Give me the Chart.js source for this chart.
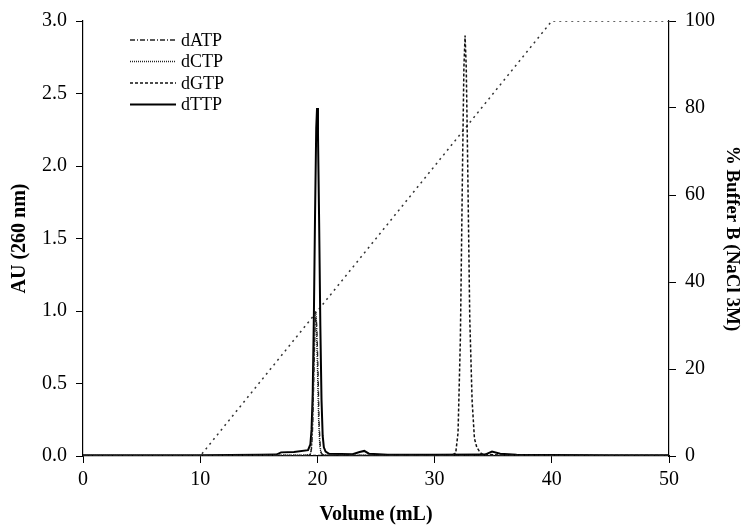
<!DOCTYPE html>
<html>
<head>
<meta charset="utf-8">
<title>Nucleotide elution</title>
<script src="https://cdn.jsdelivr.net/npm/chart.js@4/dist/chart.umd.min.js"></script>
<style>
  html, body { margin: 0; padding: 0; background: #fff; }
  #wrap { width: 747px; height: 527px; position: relative; }
</style>
</head>
<body>
<div id="wrap"><canvas id="chart"></canvas></div>
<script>
const volATP = [0, 5, 10, 15, 19.0, 19.4, 19.5, 19.6, 19.7, 19.8, 19.88, 19.95, 20.05, 20.15, 20.25, 20.35, 20.6, 25, 30, 35, 40, 45, 50];
const auATP  = [0.003, 0.003, 0.003, 0.004, 0.005, 0.01, 0.05, 0.2, 0.55, 0.9, 0.96, 0.9, 0.6, 0.22, 0.06, 0.015, 0.006, 0.004, 0.003, 0.003, 0.003, 0.003, 0.003];

const volCTP = [0, 5, 10, 15, 19.0, 19.4, 19.5, 19.6, 19.7, 19.8, 19.85, 19.9, 20.0, 20.1, 20.2, 20.3, 20.5, 25, 30, 35, 40, 45, 50];
const auCTP  = [0.004, 0.004, 0.004, 0.005, 0.006, 0.012, 0.07, 0.25, 0.61, 0.95, 1.0, 0.95, 0.61, 0.25, 0.07, 0.02, 0.008, 0.005, 0.004, 0.004, 0.004, 0.004, 0.004];

const volGTP = [0, 5, 10, 15, 20, 25, 30, 31.5, 31.8, 32.0, 32.2, 32.4, 32.5, 32.6, 32.7, 32.8, 33.0, 33.2, 33.4, 33.6, 33.8, 34.0, 35, 40, 45, 50];
const auGTP  = [0.002, 0.002, 0.002, 0.003, 0.003, 0.003, 0.004, 0.006, 0.02, 0.16, 0.81, 2.1, 2.68, 2.9, 2.68, 2.15, 0.95, 0.38, 0.12, 0.06, 0.035, 0.015, 0.008, 0.005, 0.004, 0.003];

const volTTP = [0, 5, 10, 15, 16.5, 16.9, 18, 19.2, 19.4, 19.5, 19.6, 19.7, 19.8, 19.9, 19.97, 20.05, 20.15, 20.25, 20.35, 20.45, 20.55, 20.7, 21, 23, 23.6, 24, 24.4, 26, 30, 34.3, 34.9, 35.6, 37, 40, 45, 50];
const auTTP  = [0.006, 0.006, 0.006, 0.008, 0.01, 0.025, 0.028, 0.04, 0.08, 0.18, 0.43, 0.97, 1.67, 2.26, 2.4, 2.22, 1.6, 0.9, 0.39, 0.14, 0.06, 0.03, 0.015, 0.012, 0.028, 0.035, 0.016, 0.009, 0.008, 0.01, 0.03, 0.015, 0.009, 0.007, 0.006, 0.005];

// gradiente % Buffer B
const volGrad = [0, 10, 40, 50];
const pctB    = [0, 0, 100, 100];

const serieNames = ['dATP', 'dCTP', 'dGTP', 'dTTP'];
const xTicks = [0, 10, 20, 30, 40, 50];

function pts(xs, ys) {
  return xs.map((x, i) => ({ x: x, y: ys[i] }));
}

const serif = '"Liberation Serif", "DejaVu Serif", serif';

// leyenda dentro del area, dibujada a mano (sin caja)
const legendPlugin = {
  id: 'inlineLegend',
  afterDraw(chart) {
    const ctx = chart.ctx;
    const x0 = 130, x1 = 176, y0 = 40, dy = 21.5;
    ctx.save();
    ctx.font = '18px ' + serif;
    ctx.fillStyle = '#000';
    ctx.textBaseline = 'middle';
    serieNames.forEach((name, i) => {
      const ds = chart.data.datasets[i];
      const y = y0 + i * dy;
      ctx.beginPath();
      ctx.setLineDash(ds.borderDash || []);
      ctx.lineWidth = ds.borderWidth;
      ctx.strokeStyle = ds.borderColor;
      ctx.moveTo(x0, y);
      ctx.lineTo(x1, y);
      ctx.stroke();
      ctx.setLineDash([]);
      ctx.fillText(name, x1 + 5, y + 1);
    });
    ctx.restore();
  }
};

const ctx = document.getElementById('chart');
new Chart(ctx, {
  type: 'line',
  data: {
    datasets: [
      { label: 'dATP', data: pts(volATP, auATP), yAxisID: 'y', borderColor: '#222', borderWidth: 1.3, borderDash: [5, 2, 1, 2] },
      { label: 'dCTP', data: pts(volCTP, auCTP), yAxisID: 'y', borderColor: '#222', borderWidth: 1.3, borderDash: [1, 1] },
      { label: 'dGTP', data: pts(volGTP, auGTP), yAxisID: 'y', borderColor: '#111', borderWidth: 1.5, borderDash: [3, 2] },
      { label: 'dTTP', data: pts(volTTP, auTTP), yAxisID: 'y', borderColor: '#000', borderWidth: 2 },
      { label: '% Buffer B', data: pts(volGrad, pctB), yAxisID: 'y1', borderColor: '#333', borderWidth: 1.5, borderDash: [2, 4] }
    ]
  },
  options: {
    responsive: true,
    maintainAspectRatio: false,
    animation: false,
    layout: { padding: { top: 19 } },
    elements: { point: { radius: 0 }, line: { tension: 0, fill: false } },
    plugins: { legend: { display: false }, tooltip: { enabled: false } },
    scales: {
      x: {
        type: 'linear', min: 0, max: 50,
        afterBuildTicks: s => { s.ticks = xTicks.map(v => ({ value: v })); },
        ticks: { color: '#000', font: { family: serif, size: 20 }, padding: 5, maxRotation: 0 },
        grid: { drawOnChartArea: false, drawTicks: true, tickLength: 7, color: '#000' },
        border: { color: '#000', width: 1.2 },
        title: { display: true, text: 'Volume (mL)', color: '#000', font: { family: serif, size: 20, weight: 'bold' }, padding: { bottom: 0 } },
        afterFit: s => { s.height = 71; }
      },
      y: {
        position: 'left', min: 0, max: 3,
        ticks: { stepSize: 0.5, color: '#000', font: { family: serif, size: 20 }, padding: 9, callback: v => v.toFixed(1) },
        grid: { drawOnChartArea: false, drawTicks: true, tickLength: 7, color: '#000' },
        border: { color: '#000', width: 1.2 },
        title: { display: true, text: 'AU (260 nm)', color: '#000', font: { family: serif, size: 20, weight: 'bold' }, padding: { top: 8 } },
        afterFit: s => { s.width = 83; }
      },
      y1: {
        position: 'right', min: 0, max: 100,
        ticks: { stepSize: 20, color: '#000', font: { family: serif, size: 20 }, padding: 9 },
        grid: { drawOnChartArea: false, drawTicks: true, tickLength: 7, color: '#000' },
        border: { color: '#000', width: 1.2 },
        title: { display: true, text: '% Buffer B (NaCl 3M)', color: '#000', font: { family: serif, size: 19, weight: 'bold' }, padding: { top: 4 } },
        afterFit: s => { s.width = 78; }
      }
    }
  },
  plugins: [legendPlugin]
});
</script>
</body>
</html>
